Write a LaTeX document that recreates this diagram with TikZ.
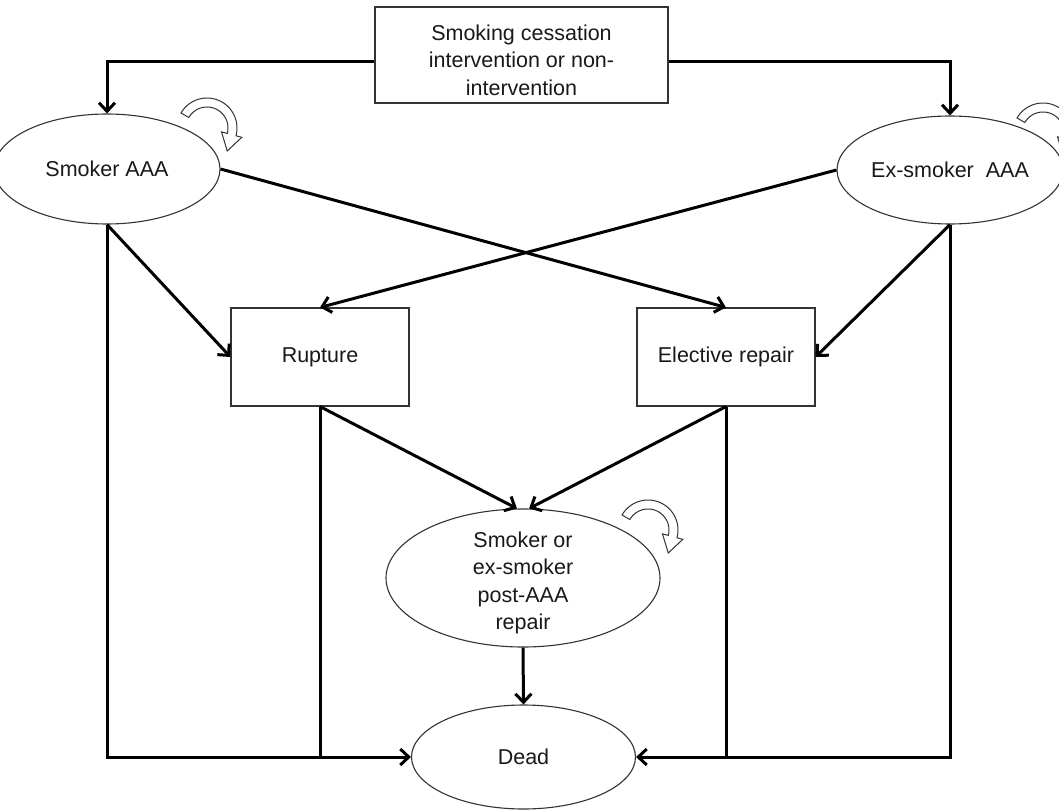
\documentclass[tikz,border=0pt]{standalone}
\usepackage{fontspec}
\setmainfont{Liberation Sans}
\usetikzlibrary{shapes.geometric,arrows.meta,calc}

\tikzset{
  % text of the states
  statetext/.style={text=black!90, font=\fontsize{21.5}{27.5}\selectfont,
    align=center, inner sep=0pt},
  % state boxes and ellipses
  state/.style={statetext, draw=black!80, line width=1.1pt, fill=white},
  boxstate/.style={state, rectangle},
  ovalstate/.style={state, ellipse},
  % transition connectors
  conn/.style={line width=3pt, black, line join=miter},
  arr/.style={conn, -{Straight Barb[length=8.5pt,width=16pt]}},
  % hollow curved arrow for remaining in the same state
  selfloop/.pic={
    \draw[draw=black!80, line width=1pt, fill=white, line join=miter]
      plot[domain=150:-15, samples=40] ({30*cos(\x)},{-30*sin(\x)})
      -- (34.77,9.32) -- (20.23,23.02) -- (14.49,3.88) -- (20.28,5.44)
      -- plot[domain=-15:150, samples=40] ({21*cos(\x)},{-21*sin(\x)})
      -- cycle;
  }
}

\begin{document}
\begin{tikzpicture}[x=1pt, y=-1pt]
  \useasboundingbox (0,0) rectangle (1059,810);
  \fill[white] (0,0) rectangle (1059,810);
  \clip (0,0) rectangle (1059,810);

  % states
  \node[boxstate, minimum width=293pt, minimum height=96pt] (top) at (521.5,55)
    {\rule{0pt}{26pt}Smoking cessation\\intervention or non-\\intervention};
  \node[ovalstate, minimum width=226pt, minimum height=110pt] (smk) at (107,169) {Smoker AAA};
  \node[ovalstate, minimum width=226pt, minimum height=108pt] (exs) at (950,170) {Ex-smoker~~AAA};
  \node[boxstate, minimum width=178pt, minimum height=98pt] (rup) at (320,357) {Rupture};
  \node[boxstate, minimum width=178pt, minimum height=98pt] (ele) at (726,357) {Elective repair};
  \node[ovalstate, minimum width=274pt, minimum height=138pt] (mid) at (523,578) {};
  \node[statetext] (midtext) at (523,583) {Smoker or\\ex-smoker\\post-AAA\\repair};
  \node[ovalstate, minimum width=224pt, minimum height=104pt] (dead) at (523.5,757) {Dead};

  % staying in the same state
  \pic at (207,128) {selfloop};
  \pic at (648,530) {selfloop};
  \pic at (1043,133) {selfloop};

  % allocation to smoking status
  \draw[arr] ([yshift=-7pt]top.west) -| (smk.north);
  \draw[arr] ([yshift=-7pt]top.east) -| (exs.north);

  % crossing transitions
  \draw[arr] (smk.east) -- (ele.north);
  \draw[arr] (exs.west) -- (rup.north);
  \draw[arr] (smk.south) -- (rup.west);
  \draw[arr] (exs.south) -- (ele.east);

  % events to post-repair state
  \draw[arr] (rup.south) -- (mid.95);
  \draw[arr] (ele.south) -- (mid.85);
  \draw[arr] (mid.south) -- (dead.north);

  % transitions to death
  \draw[arr] (smk.south) |- (dead.west);
  \draw[arr] (exs.south) |- (dead.east);
  \draw[conn] (rup.south) -- (rup.south |- dead.west);
  \draw[conn] (ele.south) -- (ele.south |- dead.east);
\end{tikzpicture}
\end{document}
